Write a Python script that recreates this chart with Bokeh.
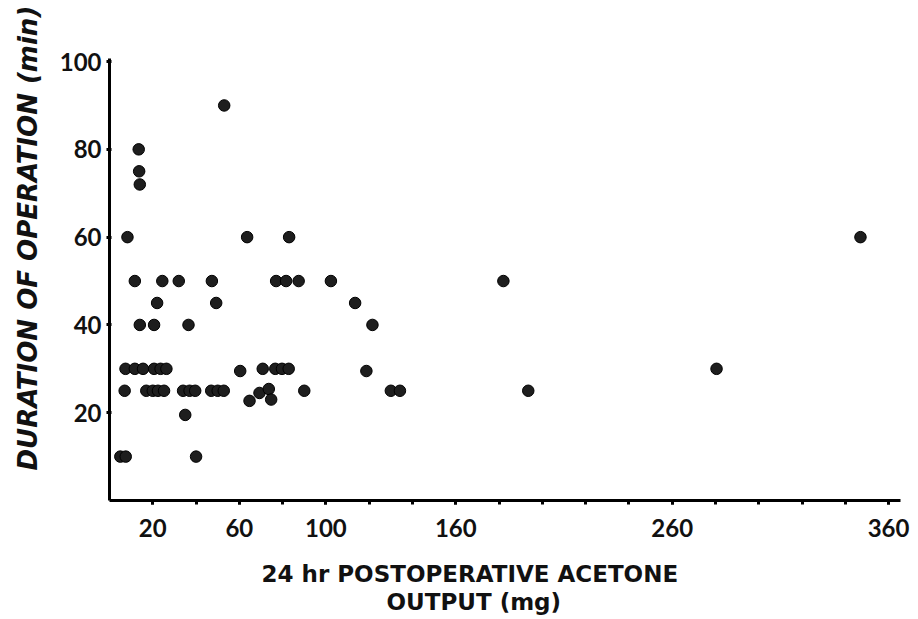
from bokeh.plotting import figure
from bokeh.models import FixedTicker, Range1d, ColumnDataSource, Title, LinearAxis
from bokeh.embed import file_html
from bokeh.resources import INLINE

# 24 hr postoperative acetone output (mg) vs duration of operation (min)
acetone_mg = [
    53,
    13.5, 13.7, 14,
    8.3, 63.6, 83, 347,
    11.7, 24.4, 32, 47.3, 77, 81.6, 87.4, 102.3, 182,
    22, 49.3, 113.5,
    14, 20.6, 36.5, 121.5,
    7.4, 11.7, 15.5, 20.6, 23.6, 26.3, 60.4, 70.8, 76.6, 79.7, 82.8, 118.7, 280.5,
    7, 17, 20, 22.4, 25.2, 34, 37, 39.6, 47, 50, 52.8, 69.3, 73.6, 90, 130, 134.2, 193.5,
    64.7, 74.7,
    35,
    5, 7.5, 40,
]
duration_min = [
    90,
    80, 75, 72,
    60, 60, 60, 60,
    50, 50, 50, 50, 50, 50, 50, 50, 50,
    45, 45, 45,
    40, 40, 40, 40,
    30, 30, 30, 30, 30, 30, 29.5, 30, 30, 30, 30, 29.5, 30,
    25, 25, 25, 25, 25, 25, 25, 25, 25, 25, 25, 24.5, 25.4, 25, 25, 25, 25,
    22.7, 23,
    19.5,
    10, 10, 10,
]

x_tick_values = [20, 60, 100, 160, 260, 360]
x_tick_marks = list(range(20, 361, 20))
y_tick_values = [20, 40, 60, 80, 100]
y_tick_marks = list(range(10, 101, 10))

x_title_line1 = "24 hr POSTOPERATIVE ACETONE"
x_title_line2 = "OUTPUT (mg)"
y_title = "DURATION OF OPERATION (min)"

source = ColumnDataSource(data=dict(x=acetone_mg, y=duration_min))

p = figure(
    width=910, height=619,
    output_backend="svg", toolbar_location=None,
    x_range=Range1d(0, 365.5), y_range=Range1d(0, 100.7),
    min_border_left=108, min_border_right=10,
    min_border_top=58, min_border_bottom=119,
)
p.outline_line_color = None
p.xgrid.visible = False
p.ygrid.visible = False
p.background_fill_color = "white"
p.border_fill_color = "white"

p.scatter("x", "y", source=source, size=11.5, marker="circle",
          fill_color="#1e1e1e", line_color="#000000", line_width=1)

tick_font = "Lato"
for ax in (p.xaxis[0], p.yaxis[0]):
    ax.axis_line_width = 3
    ax.axis_line_color = "#000000"
    ax.major_tick_line_width = 3
    ax.minor_tick_line_width = 3
    ax.major_tick_line_color = "#000000"
    ax.minor_tick_line_color = "#000000"
    ax.major_label_text_font = tick_font
    ax.major_label_text_font_style = "bold"
    ax.major_label_text_font_size = "24px"
    ax.major_label_text_color = "#111111"

p.xaxis.ticker = FixedTicker(ticks=x_tick_values, minor_ticks=x_tick_marks)
p.xaxis.major_tick_in = 0
p.xaxis.major_tick_out = 4
p.xaxis.minor_tick_in = 0
p.xaxis.minor_tick_out = 4
p.xaxis.major_label_standoff = 14

p.yaxis.ticker = FixedTicker(ticks=y_tick_values, minor_ticks=y_tick_marks)
p.yaxis.major_tick_in = 2
p.yaxis.major_tick_out = 3
p.yaxis.minor_tick_in = 1
p.yaxis.minor_tick_out = 1
p.yaxis.major_label_standoff = 5

# invisible spacer between tick labels and the two-line x title
spacer = LinearAxis(ticker=FixedTicker(ticks=[180]), axis_line_color=None,
                    major_tick_in=0, major_tick_out=21, major_tick_line_color="white",
                    minor_tick_in=0, minor_tick_out=0, minor_tick_line_color=None,
                    major_label_standoff=0, major_label_overrides={180: ""},
                    major_label_text_font_size="4px", major_label_text_color="white")
p.add_layout(spacer, "below")

title_font = "DejaVu Sans"
p.add_layout(Title(text=x_title_line1, align="left", offset=152,
                   vertical_align="top", standoff=0,
                   text_font=title_font, text_font_style="bold",
                   text_font_size="23px", text_color="#111111"), "below")
p.add_layout(Title(text=x_title_line2, align="left", offset=277,
                   vertical_align="top", standoff=0,
                   text_font=title_font, text_font_style="bold",
                   text_font_size="23px", text_color="#111111"), "below")
p.add_layout(Title(text=y_title, align="left", offset=30,
                   vertical_align="top", standoff=24,
                   text_font=title_font, text_font_style="bold italic",
                   text_font_size="26px", text_color="#111111"), "left")

open("out.html", "w").write(file_html(p, INLINE))
